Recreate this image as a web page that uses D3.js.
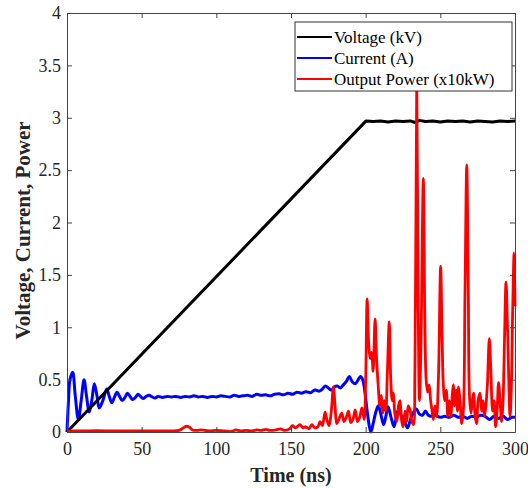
<!DOCTYPE html>
<html>
<head>
<meta charset="utf-8">
<script src="https://cdn.jsdelivr.net/npm/d3@7"></script>
<style>
  html, body { margin: 0; padding: 0; background: #fff; }
</style>
</head>
<body>
<div id="chart"></div>
<script>
// Series values (time in ns)
const voltageT = [0, 200.3, 205, 210, 215, 220, 225, 230, 233, 236, 240, 245, 250, 255, 260, 265, 270, 275, 280, 285, 290, 295, 300];
const voltageV = [0, 2.97, 2.965, 2.97, 2.96, 2.97, 2.965, 2.97, 2.955, 2.975, 2.965, 2.97, 2.96, 2.97, 2.965, 2.97, 2.96, 2.97, 2.965, 2.96, 2.97, 2.965, 2.97];

const currentT = [0, 1, 2, 3.8, 5.5, 7.6, 9.5, 11.4, 13, 14.9, 16.6, 18.3, 20, 21.6, 24, 26.6, 28.3, 30, 31.7, 33.5, 35.2, 37, 38.8, 40.5, 42.2, 44, 45.8, 47.5, 49.2, 51, 53, 55, 57, 59, 61, 64, 67, 70, 73, 76, 79, 82, 85, 88, 91, 94, 97, 100, 103, 106, 109, 112, 115, 118, 121, 124, 127, 130, 133, 136, 139, 142, 145, 148, 151, 154, 157, 160, 163, 166, 169, 171, 173, 175, 177, 179, 181, 183, 185, 187, 189, 191, 193, 195, 196.5, 198, 199.5, 201, 202.5, 203.5, 205, 207, 208.5, 210, 212, 213.5, 215, 217, 219, 221, 222.5, 224, 226, 228, 230, 232, 234, 236, 238, 240, 242, 244, 246, 248, 250, 253, 256, 259, 262, 265, 268, 271, 274, 277, 280, 283, 286, 289, 292, 295, 298, 300];
const currentV = [0, 0.3, 0.5, 0.57, 0.35, 0.12, 0.3, 0.5, 0.35, 0.19, 0.3, 0.46, 0.35, 0.23, 0.3, 0.41, 0.34, 0.28, 0.33, 0.38, 0.34, 0.3, 0.33, 0.37, 0.34, 0.31, 0.33, 0.36, 0.34, 0.32, 0.34, 0.35, 0.335, 0.325, 0.34, 0.33, 0.34, 0.335, 0.34, 0.33, 0.34, 0.335, 0.345, 0.335, 0.34, 0.33, 0.34, 0.335, 0.345, 0.34, 0.335, 0.35, 0.34, 0.345, 0.35, 0.34, 0.36, 0.35, 0.355, 0.345, 0.36, 0.365, 0.355, 0.37, 0.36, 0.38, 0.37, 0.385, 0.375, 0.4, 0.39, 0.41, 0.44, 0.42, 0.4, 0.43, 0.44, 0.42, 0.45, 0.48, 0.53, 0.48, 0.46, 0.5, 0.53, 0.5, 0.38, 0.2, 0.05, 0.0, 0.08, 0.2, 0.25, 0.18, 0.07, 0.15, 0.24, 0.14, 0.05, 0.18, 0.22, 0.15, 0.1, 0.04, 0.12, 0.19, 0.22, 0.17, 0.16, 0.2, 0.16, 0.15, 0.17, 0.15, 0.14, 0.15, 0.14, 0.16, 0.14, 0.15, 0.13, 0.15, 0.14, 0.16, 0.15, 0.12, 0.15, 0.13, 0.15, 0.12, 0.14, 0.14];

const powerT = [0, 10, 20, 30, 40, 50, 60, 70, 75, 78, 80, 82, 84, 87, 90, 95, 100, 105, 110, 113, 116, 120, 124, 127, 130, 133, 136, 140, 143, 146, 149, 151, 153, 156, 158, 160, 162, 164, 166, 168, 169.5, 171, 172.8, 174, 175.5, 177, 178.4, 179.5, 180.6, 182, 184, 185.5, 187, 188.5, 190, 191.5, 193, 194.5, 196, 197.5, 199, 200, 201, 202, 203, 204, 205, 206.3, 207.3, 208.5, 209.5, 210.5, 211.5, 212.5, 213.5, 214.5, 215.8, 216.8, 217.8, 218.6, 219.5, 220.8, 222, 223, 224, 225, 226.4, 227.5, 228.5, 229.7, 231, 232, 233, 234.2, 235.2, 236, 237, 238.6, 239.6, 240.5, 241.5, 242.5, 243.5, 244.5, 245.3, 246.5, 247.5, 248.7, 250.2, 251.2, 252, 253, 254, 255, 256, 257, 258, 258.7, 259.5, 260.5, 261.5, 262.2, 263.2, 264.3, 265.4, 266.5, 267.7, 268.7, 269.5, 270.5, 271.5, 272.3, 273.3, 274.3, 275.3, 276.6, 277.6, 278.6, 279.5, 280.5, 281.5, 282.8, 283.8, 285, 286, 287, 288, 289, 290, 291, 292, 293, 294, 295, 296.7, 297.5, 298.5, 299.4, 300];
const powerV = [0.01, 0.01, 0.012, 0.01, 0.01, 0.01, 0.01, 0.01, 0.015, 0.04, 0.055, 0.045, 0.02, 0.015, 0.02, 0.01, 0.015, 0.01, 0.005, 0.02, 0.01, 0.015, 0.01, 0.02, 0.015, 0.025, 0.015, 0.02, 0.03, 0.015, 0.03, 0.06, 0.04, 0.07, 0.04, 0.05, 0.03, 0.07, 0.04, 0.05, 0.1, 0.06, 0.19, 0.12, 0.06, 0.2, 0.43, 0.25, 0.08, 0.12, 0.18, 0.1, 0.14, 0.2, 0.09, 0.12, 0.21, 0.1, 0.14, 0.23, 0.12, 0.5, 1.27, 0.85, 0.7, 0.76, 0.58, 1.08, 0.7, 0.42, 0.25, 0.35, 0.18, 0.3, 0.2, 0.55, 1.05, 0.5, 0.3, 0.37, 0.18, 0.1, 0.25, 0.3, 0.12, 0.05, 0.2, 0.1, 0.25, 0.21, 0.1, 0.07, 0.6, 3.35, 1.2, 0.3, 0.8, 2.42, 1.1, 0.5, 0.38, 0.45, 0.3, 0.2, 0.12, 0.25, 0.15, 0.5, 1.58, 0.9, 0.45, 0.3, 0.4, 0.15, 0.3, 0.15, 0.35, 0.45, 0.25, 0.4, 0.2, 0.43, 0.3, 0.08, 0.2, 1.3, 2.55, 1.4, 0.35, 0.18, 0.3, 0.37, 0.15, 0.08, 0.3, 0.37, 0.2, 0.3, 0.15, 0.25, 0.45, 0.89, 0.6, 0.2, 0.3, 0.05, 0.2, 0.47, 0.3, 0.1, 0.3, 0.9, 1.43, 1.0, 0.15, 0.4, 1.2, 1.71, 1.2];

const xTicks = [0, 50, 100, 150, 200, 250, 300];
const yTicks = [0, 0.5, 1, 1.5, 2, 2.5, 3, 3.5, 4];
const seriesNames = ['Voltage (kV)', 'Current (A)', 'Output Power (x10kW)'];
const seriesColors = ['#000000', '#0000ff', '#ff0000'];

function drawChart() {
  const font = "'Liberation Serif', 'Times New Roman', serif";
  const W = 528, H = 488;
  const margin = { top: 13, right: 13, bottom: 56, left: 67 };
  const w = W - margin.left - margin.right;
  const h = H - margin.top - margin.bottom;
  const axisColor = '#444';

  const svg = d3.select('#chart').append('svg')
    .attr('width', W).attr('height', H)
    .style('font-family', font);

  const g = svg.append('g')
    .attr('transform', `translate(${margin.left},${margin.top})`);

  const x = d3.scaleLinear().domain([0, 300]).range([0, w]);
  const y = d3.scaleLinear().domain([0, 4]).range([h, 0]);

  const pairs = (ts, vs) => ts.map((t, i) => [t, vs[i]]);
  const straight = d3.line().x(d => x(d[0])).y(d => y(d[1]));
  const smooth = d3.line().x(d => x(d[0])).y(d => y(d[1])).curve(d3.curveCatmullRom.alpha(0.5));

  // data lines (voltage straight, the others smoothed like dense sampled traces)
  const series = [
    { data: pairs(voltageT, voltageV), color: seriesColors[0], width: 3, gen: straight },
    { data: pairs(currentT, currentV), color: seriesColors[1], width: 3, gen: smooth },
    { data: pairs(powerT, powerV), color: seriesColors[2], width: 2.8, gen: smooth }
  ];
  const drawOrder = [1, 0, 2];
  drawOrder.forEach(i => {
    g.append('path')
      .attr('d', series[i].gen(series[i].data))
      .attr('fill', 'none')
      .attr('stroke', series[i].color)
      .attr('stroke-width', series[i].width)
      .attr('stroke-linejoin', 'round');
  });

  // axes with inward ticks on all sides
  const tk = 5;
  const xAxis = g.append('g').attr('transform', `translate(0,${h})`)
    .call(d3.axisBottom(x).tickValues(xTicks).tickSizeInner(-tk).tickSizeOuter(0).tickPadding(10));
  const yAxis = g.append('g')
    .call(d3.axisLeft(y).tickValues(yTicks).tickSizeInner(-tk).tickSizeOuter(0).tickPadding(6)
      .tickFormat(d => d3.format('~g')(d)));
  const xTop = g.append('g')
    .call(d3.axisTop(x).tickValues(xTicks).tickSizeInner(-tk).tickSizeOuter(0).tickFormat(''));
  const yRight = g.append('g').attr('transform', `translate(${w},0)`)
    .call(d3.axisRight(y).tickValues(yTicks).tickSizeInner(-tk).tickSizeOuter(0).tickFormat(''));

  [xAxis, yAxis, xTop, yRight].forEach(a => {
    a.select('.domain').attr('stroke', axisColor).attr('stroke-width', 1);
    a.selectAll('.tick line').attr('stroke', axisColor);
    a.selectAll('text')
      .attr('fill', '#262626')
      .attr('font-size', '18px')
      .style('font-family', font);
  });

  // axis titles
  svg.append('text')
    .attr('x', margin.left + w / 2).attr('y', 482)
    .attr('text-anchor', 'middle')
    .attr('font-size', '20px').attr('font-weight', 'bold')
    .attr('fill', '#262626')
    .text('Time (ns)');

  svg.append('text')
    .attr('transform', `translate(30,${margin.top + h / 2 + 8}) rotate(-90)`)
    .attr('text-anchor', 'middle')
    .attr('font-size', '21px').attr('font-weight', 'bold')
    .attr('fill', '#262626')
    .text('Voltage, Current, Power');

  // legend
  const lg = svg.append('g').attr('transform', 'translate(295,22)');
  lg.append('rect')
    .attr('width', 217).attr('height', 69)
    .attr('fill', '#fff').attr('stroke', '#333').attr('stroke-width', 1);
  seriesNames.forEach((name, i) => {
    const cy = 15 + i * 21;
    lg.append('line')
      .attr('x1', 2).attr('x2', 37).attr('y1', cy).attr('y2', cy)
      .attr('stroke', seriesColors[i]).attr('stroke-width', 2);
    lg.append('text')
      .attr('x', 39).attr('y', cy + 6)
      .attr('font-size', '17px').attr('fill', '#000')
      .text(name);
  });
}

drawChart();
</script>
</body>
</html>
